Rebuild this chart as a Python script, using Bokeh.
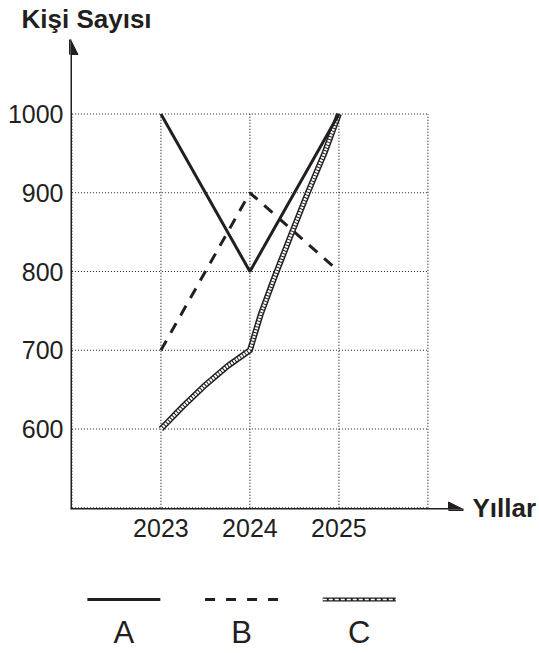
from bokeh.plotting import figure
from bokeh.models import Range1d, FixedTicker, Arrow, NormalHead, LinearAxis, ColumnDataSource
from bokeh.layouts import column
from bokeh.core.properties import value
from bokeh.embed import file_html
from bokeh.resources import INLINE

# ---- data ----
years = [2023, 2024, 2025]
x_tick_labels = ["2023", "2024", "2025"]
series_a = [1000, 800, 1000]
series_b = [700, 900, 800]
c_years = [2023, 2023.25, 2023.5, 2023.75, 2024, 2024.12, 2024.27, 2024.46, 2024.65, 2024.84, 2025]
series_c = [600, 629, 656, 680, 700, 745, 791, 846, 900, 951, 1000]
y_ticks = [600, 700, 800, 900, 1000]
grid_years = [2022, 2023, 2024, 2025, 2026]
grid_values = [500, 600, 700, 800, 900, 1000]
series_names = ["A", "B", "C"]
x_title = "Yıllar"
y_title = "Kişi Sayısı"

INK = "#231f20"
FONT = "Liberation Sans"
W = 539
H_MAIN = 560
H_LEG = 93

p = figure(width=W, height=H_MAIN, output_backend="svg", toolbar_location=None,
           x_range=Range1d(2021.984, 2026.40), y_range=Range1d(497.8, 1094.6),
           min_border_left=70, min_border_right=75, min_border_top=36, min_border_bottom=51)
p.xgrid.visible = False
p.ygrid.visible = False
p.outline_line_color = None
p.background_fill_color = "white"

# y axis name as the figure title
p.title.text = y_title
p.title.align = "left"
p.title.vertical_align = "top"
p.title.offset = -49
p.title.standoff = 7
p.title.text_font = FONT
p.title.text_font_size = "26px"
p.title.text_font_style = "bold"
p.title.text_color = INK

# dotted grid box
n = len(grid_years)
m = len(grid_values)
p.segment(x0=grid_years, y0=[min(grid_values)] * n, x1=grid_years, y1=[max(grid_values)] * n,
          line_color=INK, line_width=1.2, line_dash="1 2")
p.segment(x0=[min(grid_years)] * m, y0=grid_values, x1=[max(grid_years)] * m, y1=grid_values,
          line_color=INK, line_width=1.2, line_dash="1 2")

# series
p.line(c_years, series_c, line_width=6, line_color=INK, line_join="round")
p.line(c_years, series_c, line_width=3, line_color="white", line_dash="2 1")
p.line(years, series_a, line_width=3, line_color=INK)
p.line(years, series_b, line_width=3, line_color=INK, line_dash="11 9")

# x-axis name shown as a right-side axis label at the x-axis level
name_axis = LinearAxis(ticker=FixedTicker(ticks=[min(grid_values)]),
                       major_label_overrides={min(grid_values): x_title})
p.add_layout(name_axis, "right")

# axes (ticks / labels)
p.xaxis.ticker = FixedTicker(ticks=years)
p.xaxis.major_label_overrides = {y: t for y, t in zip(years, x_tick_labels)}
p.yaxis[0].ticker = FixedTicker(ticks=y_ticks)
for ax in (p.xaxis[0], p.yaxis[0], name_axis):
    ax.axis_line_color = None
    ax.major_tick_line_color = None
    ax.minor_tick_line_color = None
    ax.major_tick_out = 0
    ax.major_tick_in = 0
    ax.minor_tick_out = 0
    ax.major_label_text_font = FONT
    ax.major_label_text_font_size = "25px"
    ax.major_label_text_color = INK
p.xaxis.major_label_standoff = 9
p.yaxis[0].major_label_standoff = 7
name_axis.major_label_standoff = 9
name_axis.major_label_text_font_style = "bold"
name_axis.major_label_text_font_size = "26px"

# axis arrows
x0, x1 = p.x_range.start, p.x_range.end
y0, y1 = p.y_range.start, p.y_range.end
p.add_layout(Arrow(end=NormalHead(size=15, fill_color=INK, line_color=INK, line_width=1),
                   x_start=x0, y_start=y0, x_end=x0, y_end=y1, line_width=3, line_color=INK))
p.add_layout(Arrow(end=NormalHead(size=15, fill_color=INK, line_color=INK, line_width=1),
                   x_start=x0, y_start=y0, x_end=x1, y_end=y0, line_width=3, line_color=INK))

# ---- legend (same horizontal frame as the chart) ----
idx = list(range(len(series_names)))
leg = figure(width=W, height=H_LEG, output_backend="svg", toolbar_location=None,
             x_range=Range1d(-0.4534, 2.8856), y_range=Range1d(0, H_LEG),
             x_axis_location=None, y_axis_location=None,
             min_border_left=70, min_border_right=75, min_border_top=0, min_border_bottom=0)
leg.xgrid.visible = False
leg.ygrid.visible = False
leg.outline_line_color = None

SAMPLE_Y = 54
HALF = 0.31
def seg(i, **kw):
    leg.segment(x0=[idx[i] - HALF], y0=[SAMPLE_Y], x1=[idx[i] + HALF], y1=[SAMPLE_Y], **kw)

seg(0, line_width=3, line_color=INK)
seg(1, line_width=3, line_color=INK, line_dash="10 11")
seg(2, line_width=4, line_color=INK)
seg(2, line_width=1.6, line_color="white", line_dash="4 2")
leg.text(x="i", y="y", text="name",
         source=ColumnDataSource(dict(i=idx, name=series_names, y=[21] * len(idx))),
         text_font=value(FONT), text_font_size="31px", text_align="center",
         text_baseline="alphabetic", text_color=INK)

layout = column(p, leg, spacing=0)
open("out.html", "w").write(file_html(layout, INLINE))
